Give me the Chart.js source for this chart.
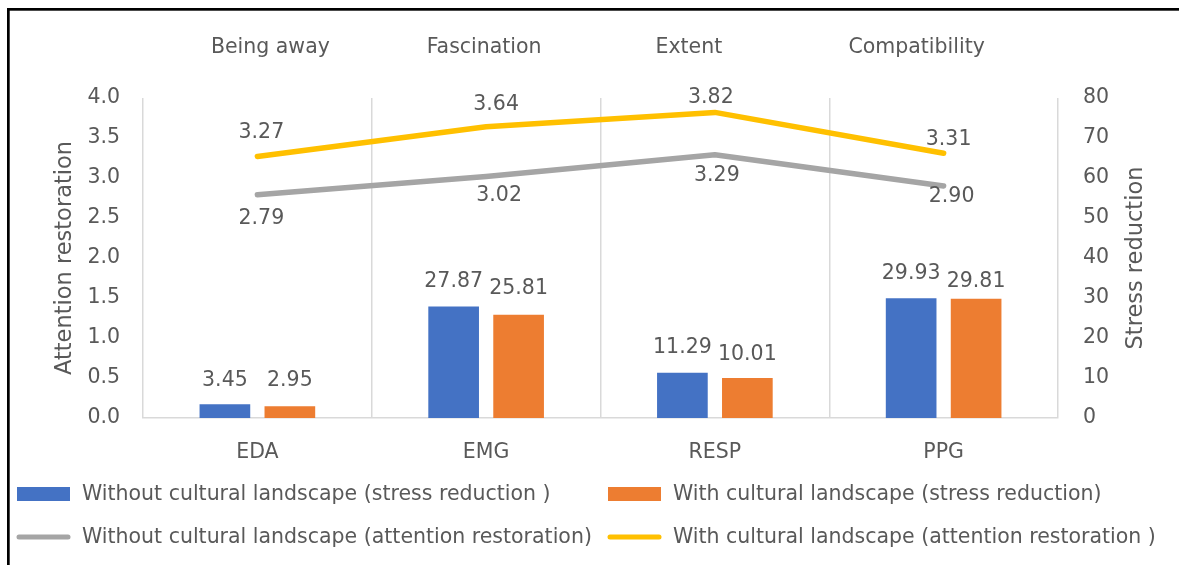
<!DOCTYPE html>
<html>
<head>
<meta charset="utf-8">
<script src="https://cdn.jsdelivr.net/npm/chart.js@4.4.0/dist/chart.umd.min.js"></script>
<style>
  html, body { margin: 0; padding: 0; background: #ffffff; overflow: hidden; }
  #wrap { position: relative; width: 1179px; height: 565px; }
  #wrap canvas { position: absolute; left: 0; top: 0; display: block; }
</style>
</head>
<body>
<div id="wrap">
  <canvas id="bars" width="1179" height="565"></canvas>
  <canvas id="lines" width="1179" height="565"></canvas>
</div>
<script>
// Physiological signals (bottom axis) and restoration dimensions (top axis)
const signals = ['EDA', 'EMG', 'RESP', 'PPG'];
const dimensions = ['Being away', 'Fascination', 'Extent', 'Compatibility'];

// Stress reduction (right axis)
const stressWithout = [3.45, 27.87, 11.29, 29.93];
const stressWith = [2.95, 25.81, 10.01, 29.81];

// Attention restoration (left axis)
const attentionWithout = [2.79, 3.02, 3.29, 2.90];
const attentionWith = [3.27, 3.64, 3.82, 3.31];

// Axis ranges
const attentionAxis = { min: 0, max: 4, step: 0.5 };
const stressAxis = { min: 0, max: 80, step: 10 };

const TEXT = '#595959';
const GRID = '#d9d9d9';
const FONT = '"DejaVu Sans", sans-serif';
const SIZE = 20.5;

// Plot frame shared by both layers: left 143, right 1058, top 98, bottom 418
const AXIS_LEFT = 143, AXIS_RIGHT = 121, AXIS_TOP = 98, AXIS_BOTTOM = 147;

const barSeries = [
  { type: 'bar', label: 'Without cultural landscape (stress reduction )', data: stressWithout,
    backgroundColor: '#4472C4', categoryPercentage: 0.568, barPercentage: 0.78 },
  { type: 'bar', label: 'With cultural landscape (stress reduction)', data: stressWith,
    backgroundColor: '#ED7D31', categoryPercentage: 0.568, barPercentage: 0.78 }
];

const lineStyle = { borderWidth: 5.5, borderCapStyle: 'round', borderJoinStyle: 'round', pointRadius: 0, tension: 0 };
const lineSeries = [
  Object.assign({ type: 'line', label: 'Without cultural landscape (attention restoration)', data: attentionWithout,
    borderColor: '#A5A5A5', backgroundColor: '#A5A5A5' }, lineStyle),
  Object.assign({ type: 'line', label: 'With cultural landscape (attention restoration )', data: attentionWith,
    borderColor: '#FFC000', backgroundColor: '#FFC000' }, lineStyle)
];

// Legend entries in reading order: two columns, two rows
const legendEntries = [barSeries[0], barSeries[1], lineSeries[0], lineSeries[1]];

// White page with a black rule along the top and left edges
const frame = {
  id: 'frame',
  beforeDraw(chart) {
    const ctx = chart.ctx;
    ctx.save();
    ctx.fillStyle = '#ffffff';
    ctx.fillRect(0, 0, chart.width, chart.height);
    ctx.fillStyle = '#000000';
    ctx.fillRect(7, 8, chart.width - 7, 2.7);
    ctx.fillRect(7, 8, 2.7, chart.height - 8);
    ctx.restore();
  }
};

// Restoration dimension names above the plot, placed from the top category axis
const topLabels = {
  id: 'topLabels',
  afterDraw(chart, args, opts) {
    const scale = chart.scales.x;
    const ctx = chart.ctx;
    ctx.save();
    ctx.font = opts.size + 'px ' + FONT;
    ctx.fillStyle = TEXT;
    ctx.textAlign = 'center';
    ctx.textBaseline = 'middle';
    scale.getLabels().forEach((text, i) => {
      ctx.fillText(text, scale.getPixelForValue(i) + opts.dx[i], opts.y);
    });
    ctx.restore();
  }
};

// Numeric labels next to every bar and line vertex
const valueLabels = {
  id: 'valueLabels',
  afterDatasetsDraw(chart, args, opts) {
    const ctx = chart.ctx;
    ctx.save();
    ctx.font = opts.size + 'px ' + FONT;
    ctx.fillStyle = TEXT;
    ctx.textAlign = 'center';
    ctx.textBaseline = 'middle';
    chart.data.datasets.forEach((ds, di) => {
      const meta = chart.getDatasetMeta(di);
      const shifts = opts.shifts[di];
      meta.data.forEach((el, i) => {
        const s = shifts[i];
        ctx.fillText(ds.data[i].toFixed(2), el.x + s[0], el.y + s[1]);
      });
    });
    ctx.restore();
  }
};

// Right-hand axis title, reading bottom to top
const rightTitle = {
  id: 'rightTitle',
  afterDraw(chart, args, opts) {
    const ctx = chart.ctx;
    const area = chart.chartArea;
    ctx.save();
    ctx.font = opts.size + 'px ' + FONT;
    ctx.fillStyle = TEXT;
    ctx.textAlign = 'center';
    ctx.textBaseline = 'middle';
    ctx.translate(opts.x, (area.top + area.bottom) / 2);
    ctx.rotate(-Math.PI / 2);
    ctx.fillText(opts.text, 0, 0);
    ctx.restore();
  }
};

// Two-column legend under the plot
const gridLegend = {
  id: 'gridLegend',
  afterDraw(chart, args, opts) {
    const ctx = chart.ctx;
    ctx.save();
    ctx.font = opts.size + 'px ' + FONT;
    ctx.textBaseline = 'middle';
    ctx.textAlign = 'left';
    legendEntries.forEach((ds, k) => {
      const x = opts.cols[k % 2];
      const y = opts.rows[Math.floor(k / 2)];
      if (ds.type === 'line') {
        ctx.strokeStyle = ds.borderColor;
        ctx.lineWidth = 5;
        ctx.lineCap = 'round';
        ctx.beginPath();
        ctx.moveTo(x + 2, y);
        ctx.lineTo(x + opts.swatch - 2, y);
        ctx.stroke();
      } else {
        ctx.fillStyle = ds.backgroundColor;
        ctx.fillRect(x, y - 7, opts.swatch, 14);
      }
      ctx.fillStyle = TEXT;
      ctx.fillText(ds.label, x + opts.swatch + opts.gap, y + 1);
    });
    ctx.restore();
  }
};

// Lower layer: stress-reduction bars, category grid, bottom and right axes, legend
new Chart(document.getElementById('bars'), {
  type: 'bar',
  data: { labels: signals, datasets: barSeries },
  options: {
    responsive: false,
    animation: false,
    layout: { padding: { left: AXIS_LEFT, top: AXIS_TOP, right: 0, bottom: 0 } },
    plugins: {
      legend: { display: false },
      tooltip: { enabled: false },
      valueLabels: {
        size: SIZE,
        shifts: [
          [[0, -24], [0, -25], [0, -25], [0, -25]],
          [[0, -26], [0, -26], [0, -23], [0, -17]]
        ]
      },
      rightTitle: { text: 'Stress reduction', size: 22.5, x: 1136 },
      gridLegend: { size: SIZE, cols: [17, 608], rows: [494, 537], swatch: 53, gap: 12 }
    },
    scales: {
      x: {
        type: 'category',
        position: 'bottom',
        offset: true,
        grid: { offset: true, color: GRID, lineWidth: 1.5, drawTicks: false, tickLength: 0 },
        border: { display: true, color: GRID, width: 1.5 },
        ticks: { color: TEXT, font: { family: FONT, size: SIZE }, padding: 22 },
        afterFit(s) { s.height = AXIS_BOTTOM; }
      },
      y: {
        type: 'linear',
        position: 'right',
        min: stressAxis.min,
        max: stressAxis.max,
        grid: { display: false, drawTicks: false, tickLength: 0 },
        border: { display: false },
        ticks: {
          stepSize: stressAxis.step,
          color: TEXT,
          font: { family: FONT, size: SIZE },
          padding: 25
        },
        afterFit(s) { s.width = AXIS_RIGHT; }
      }
    }
  },
  plugins: [frame, valueLabels, rightTitle, gridLegend]
});

// Upper layer: attention-restoration lines, top and left axes
new Chart(document.getElementById('lines'), {
  type: 'line',
  data: { labels: dimensions, datasets: lineSeries },
  options: {
    responsive: false,
    animation: false,
    layout: { padding: { left: 0, top: 0, right: AXIS_RIGHT, bottom: AXIS_BOTTOM } },
    plugins: {
      legend: { display: false },
      tooltip: { enabled: false },
      topLabels: { size: SIZE, y: 48, dx: [13, -2, -26, -27] },
      valueLabels: {
        size: SIZE,
        shifts: [
          [[4, 24], [13, 19], [2, 21], [8, 11]],
          [[4, -24], [10, -22], [-4, -15], [5, -14]]
        ]
      }
    },
    scales: {
      x: {
        type: 'category',
        position: 'top',
        offset: true,
        grid: { display: false, drawTicks: false, tickLength: 0 },
        border: { display: false },
        ticks: { display: false },
        afterFit(s) { s.height = AXIS_TOP; }
      },
      y: {
        type: 'linear',
        position: 'left',
        min: attentionAxis.min,
        max: attentionAxis.max,
        grid: { display: false, drawTicks: false, tickLength: 0 },
        border: { display: false },
        ticks: {
          stepSize: attentionAxis.step,
          color: TEXT,
          font: { family: FONT, size: SIZE },
          padding: 23,
          callback: v => v.toFixed(1)
        },
        title: {
          display: true,
          text: 'Attention restoration',
          color: TEXT,
          font: { family: FONT, size: 22.5 },
          padding: { top: 52, bottom: 0 }
        },
        afterFit(s) { s.width = AXIS_LEFT; }
      }
    }
  },
  plugins: [topLabels, valueLabels]
});
</script>
</body>
</html>
